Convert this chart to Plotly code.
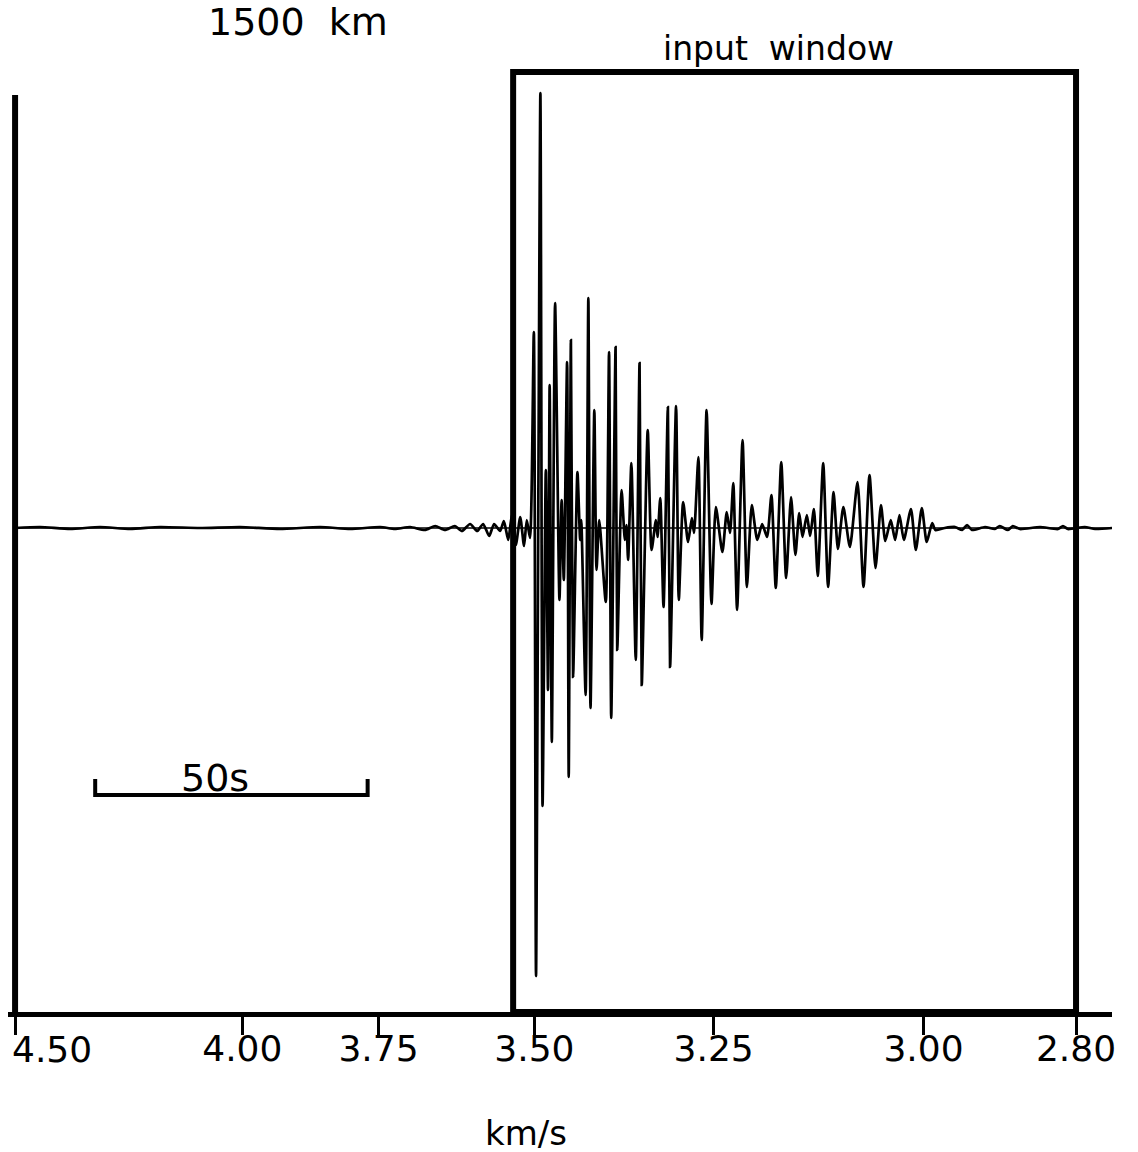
import plotly.graph_objects as go

# ---------------- data ----------------
# travel time (s) at 1500 km and relative ground-motion amplitude (digitised units)
time_s = [
    333.3, 337.9, 343.4, 348.9, 354.4, 359.9, 367.2, 374.6, 381.9, 389.3, 394.8,
    400.3, 403.0, 405.8, 408.5, 410.4, 412.2, 414.0, 415.3, 416.8, 418.1, 419.2,
    420.3, 421.2, 422.3, 423.0, 423.8, 424.5, 425.2, 426.0, 426.7, 427.2, 427.8,
    428.5, 428.9, 429.7, 430.1, 430.7, 431.1, 431.4, 431.8, 432.4, 433.2, 433.6,
    434.0, 434.6, 434.9, 435.3, 435.7, 436.5, 437.0, 437.2, 438.0, 438.5, 438.9,
    439.6, 440.0, 440.5, 441.7, 442.3, 442.7, 443.5, 443.8, 444.6, 445.2, 445.5,
    445.8, 446.4, 447.2, 447.9, 448.3, 449.4, 450.1, 450.9, 451.2, 451.7, 452.3,
    453.1, 453.5, 454.6, 455.1, 455.9, 456.8, 457.5, 457.9, 458.7, 459.3, 460.2,
    461.1, 461.9, 463.1, 463.9, 464.5, 465.1, 465.8, 466.8, 467.6, 468.5, 469.5,
    470.4, 471.3, 472.1, 472.9, 473.9, 474.8, 475.7, 476.5, 477.2, 477.8, 478.6,
    479.2, 479.9, 480.6, 481.6, 482.5, 483.5, 484.3, 485.3, 486.5, 487.9, 489.0,
    490.1, 491.2, 492.2, 493.0, 494.0, 494.8, 495.6, 496.4, 497.7, 498.6, 499.7,
    500.6, 501.6, 502.2,
    503.9, 505.8, 507.1, 508.0, 508.9, 511.3, 513.1, 514.0, 515.5, 516.4, 517.7,
    521.4, 524.7, 525.6, 526.5, 529.6, 531.5, 534.6,
]
amplitude = [
    0, 1, -1, 1, -1, 1, 0, 1, -1, 1, -1,
    1, -1, 1, -2, 2, -2, 2, -3, 4, -3, 4,
    -8, 4, -3, 7, -12, 14, -17, 11, -18, 8, -10,
    196, -448, 435, -278, 58, -162, 143, -214, 225, -72, 28,
    -52, 166, -249, 188, -149, 56, -12, 8, -167, 230, -180,
    118, -42, 8, -74, 176, -190, 181, -122, 38, -12, 3,
    -32, 65, -132, 165, -157, 98, -22, 8, -9, 30, -79,
    121, -139, 122, -72, 26, -14, 10, -5, 71, -112, 118,
    -76, 21, -24, 16, -5, 45, -82, 88, -59, 23, -12,
    4, -9, 33, -60, 66, -50, 31, -27, 15, -9, 13,
    -8, 19, -48, 65, -59, 36, -21, 21, -19, 46, -59,
    53, -40, 23, -13, 8, -12, 13, -12, 19, -22, 20,
    -14, 5, -2,
    0, 1, -2, 3, -2, 1, -1, 2, -2, 2, -1,
    1, -1, 2, -1, 1, -1, 0,
]

# group-velocity tick labels (km/s) and where they sit on the time axis (s)
tick_labels = ["4.50", "4.00", "3.75", "3.50", "3.25", "3.00", "2.80"]
tick_time_s = [333.3, 375.0, 400.0, 428.6, 461.5, 500.0, 528.0]

window_start_s = 424.7
window_end_s = 528.0
window_top = 456
scale_bar_start_s = 348.0
scale_bar_len_s = 50

x_range = [332.0, 534.6]
y_range = [-484, 468]

FONT = "DejaVu Sans"

fig = go.Figure()
fig.add_trace(go.Scatter(
    x=time_s, y=amplitude, mode="lines",
    line=dict(color="black", width=2.7, shape="spline", smoothing=0.6),
    showlegend=False, hoverinfo="skip",
))

shapes = [
    # baseline through the record
    dict(type="line", xref="x", yref="y", x0=tick_time_s[0], x1=x_range[1],
         y0=0, y1=0, line=dict(color="black", width=1.5), layer="below"),
    # input window box
    dict(type="rect", xref="x", yref="y", x0=window_start_s, x1=window_end_s,
         y0=y_range[0], y1=window_top, line=dict(color="black", width=6)),
    # left vertical line
    dict(type="line", xref="x", yref="y", x0=tick_time_s[0], x1=tick_time_s[0],
         y0=433, y1=y_range[0], line=dict(color="black", width=6)),
    # 50 s scale bar
    dict(type="path", xref="x", yref="y",
         path=(f"M {scale_bar_start_s},-251 L {scale_bar_start_s},-267 "
               f"L {scale_bar_start_s + scale_bar_len_s},-267 "
               f"L {scale_bar_start_s + scale_bar_len_s},-251"),
         line=dict(color="black", width=4)),
]

annotations = [
    dict(text="1500\u00a0\u00a0km", xref="paper", yref="paper", x=0.2627, y=1.0399,
         showarrow=False, font=dict(family=FONT, size=38, color="black"),
         xanchor="center", yanchor="middle"),
    dict(text="input\u00a0\u00a0window", xref="paper", yref="paper", x=0.6975, y=1.0116,
         showarrow=False, font=dict(family=FONT, size=33, color="black"),
         xanchor="center", yanchor="middle"),
    dict(text="km/s", xref="paper", yref="paper", x=0.469, y=-0.1271,
         showarrow=False, font=dict(family=FONT, size=34, color="black"),
         xanchor="center", yanchor="middle"),
    dict(text=f"{scale_bar_len_s}s", xref="x", yref="y", x=370, y=-250,
         showarrow=False, font=dict(family=FONT, size=38, color="black"),
         xanchor="center", yanchor="middle"),
    dict(text=tick_labels[0], xref="x", yref="paper", x=332.4, y=-0.0399,
         showarrow=False, font=dict(family=FONT, size=36, color="black"),
         xanchor="left", yanchor="middle"),
]

fig.update_layout(
    width=1138, height=1152,
    margin=dict(l=8, r=26, t=60, b=140),
    paper_bgcolor="white", plot_bgcolor="white",
    shapes=shapes, annotations=annotations,
    xaxis=dict(
        range=x_range, showgrid=False, zeroline=False,
        showline=True, linewidth=5, linecolor="black",
        ticks="outside", ticklen=18, tickwidth=3, tickcolor="black",
        tickvals=tick_time_s, ticktext=[""] + tick_labels[1:],
        tickfont=dict(family=FONT, size=36, color="black"),
        ticklabelstandoff=-17,
    ),
    yaxis=dict(range=y_range, visible=False, showgrid=False, zeroline=False),
)

fig.write_html("out.html")
